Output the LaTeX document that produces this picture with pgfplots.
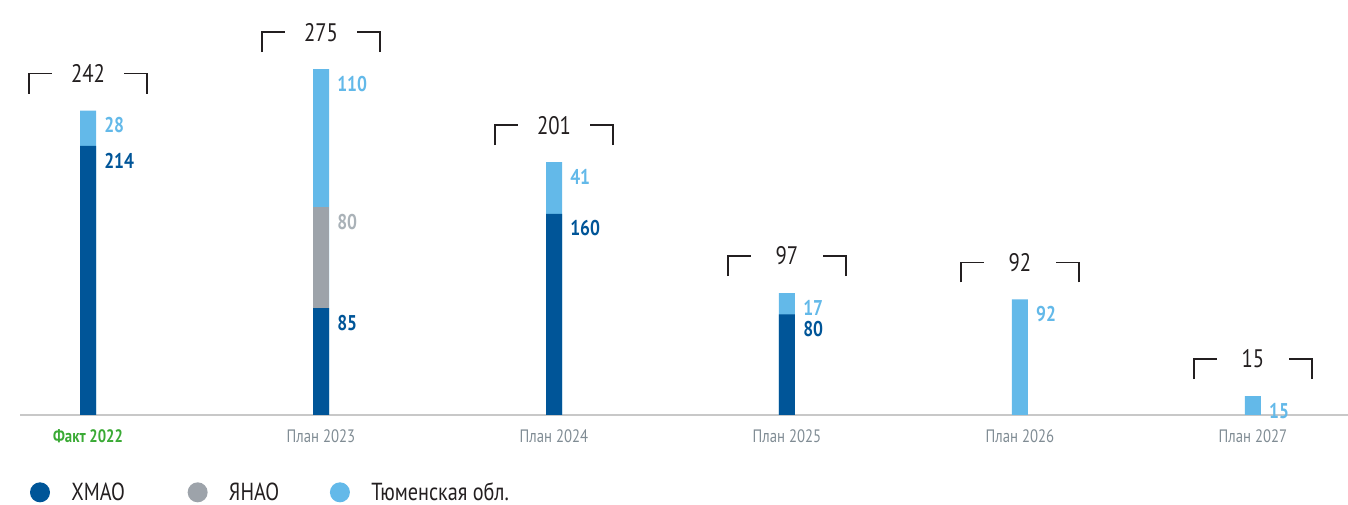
\documentclass[border=0pt]{standalone}
\usepackage{fontspec}
\setmainfont{PT Sans}[FakeStretch=0.82]
\usepackage{pgfplots}
\pgfplotsset{compat=1.18}
\definecolor{cblue}{RGB}{0,85,152}
\definecolor{cgrey}{RGB}{157,163,170}
\definecolor{ccyan}{RGB}{99,185,233}
\definecolor{cgreen}{RGB}{58,170,53}
\definecolor{ctick}{RGB}{128,140,148}
\definecolor{cgreylab}{RGB}{170,178,184}
\definecolor{caxis}{RGB}{200,200,200}
\definecolor{ctext}{RGB}{35,31,32}
\newcommand{\brk}[2]{%
  \draw[line width=1.1pt, ctext] ([xshift=-44.25pt,yshift=12.75pt]axis cs:#1,#2) -- ++(0pt,15pt) -- ++(17.25pt,0pt);
  \draw[line width=1.1pt, ctext] ([xshift=44.25pt,yshift=12.75pt]axis cs:#1,#2) -- ++(0pt,15pt) -- ++(-17.25pt,0pt);
  \node[font=\fontsize{19}{19}\selectfont, text=ctext, inner sep=0pt] at ([yshift=27.75pt]axis cs:#1,#2) {#2};}
\begin{document}
\begin{tikzpicture}
\useasboundingbox (0,0) rectangle (1011pt,378.75pt);
\begin{axis}[
  at={(15pt,67.5pt)}, anchor=south west,
  scale only axis, width=996pt, height=311.25pt,
  xmin=-0.292, xmax=5.408, ymin=0, ymax=330,
  clip=false,
  /pgf/number format/assume math mode=true,
  axis x line*=bottom, hide y axis,
  x axis line style={caxis, line width=1.5pt},
  xtick={0,1,2,3,4,5},
  xticklabels={\textcolor{cgreen}{\bfseries Факт 2022}, План 2023, План 2024, План 2025, План 2026, План 2027},
  major tick length=0pt,
  xticklabel style={font=\fontsize{13.5}{13.5}\selectfont, text=ctick, yshift=-7.5pt},
  legend columns=3,
  legend style={draw=none, fill=none, inner sep=0pt, outer sep=0pt,
    at={(axis description cs:0,0)}, anchor=west, xshift=7.5pt, yshift=-58pt,
    font=\fontsize{18.5}{18.5}\selectfont, text=ctext,
    nodes={inner sep=0pt},
    /tikz/every odd column/.append style={column sep=16pt},
    /tikz/column 2/.style={column sep=47pt},
    /tikz/column 4/.style={column sep=38pt}},
  legend cell align=left,
  vlabel/.style={nodes near coords, point meta=explicit,
    every node near coord/.append style={anchor=north west, inner sep=0pt, xshift=12pt, yshift=-5pt,
      font=\bfseries\fontsize{16}{16}\selectfont, text=#1}},
]
\addlegendimage{fill=cblue, draw=none, legend image code/.code={\fill[cblue] (7.5pt,0pt) circle (7.5pt);}}
\addlegendentry{ХМАО}
\addlegendimage{fill=cgrey, draw=none, legend image code/.code={\fill[cgrey] (7.5pt,0pt) circle (7.5pt);}}
\addlegendentry{ЯНАО}
\addlegendimage{fill=ccyan, draw=none, legend image code/.code={\fill[ccyan] (7.5pt,0pt) circle (7.5pt);}}
\addlegendentry{Тюменская обл.}
% Тюменская обл. (stack top = total), meta = segment value
\addplot[ybar, bar width=12pt, fill=ccyan, draw=none, forget plot, vlabel=ccyan]
  coordinates {(0,242) [28] (1,275) [110] (2,201) [41] (3,97) [17] (4,92) [92] (5,15) [15]};
% ЯНАО
\addplot[ybar, bar width=12pt, fill=cgrey, draw=none, forget plot, vlabel=cgreylab]
  coordinates {(1,165) [80]};
% ХМАО
\addplot[ybar, bar width=12pt, fill=cblue, draw=none, forget plot, vlabel=cblue]
  coordinates {(0,214) [214] (1,85) [85] (2,160) [160] (3,80) [80]};
\brk{0}{242}
\brk{1}{275}
\brk{2}{201}
\brk{3}{97}
\brk{4}{92}
\brk{5}{15}
\end{axis}
\end{tikzpicture}
\end{document}
